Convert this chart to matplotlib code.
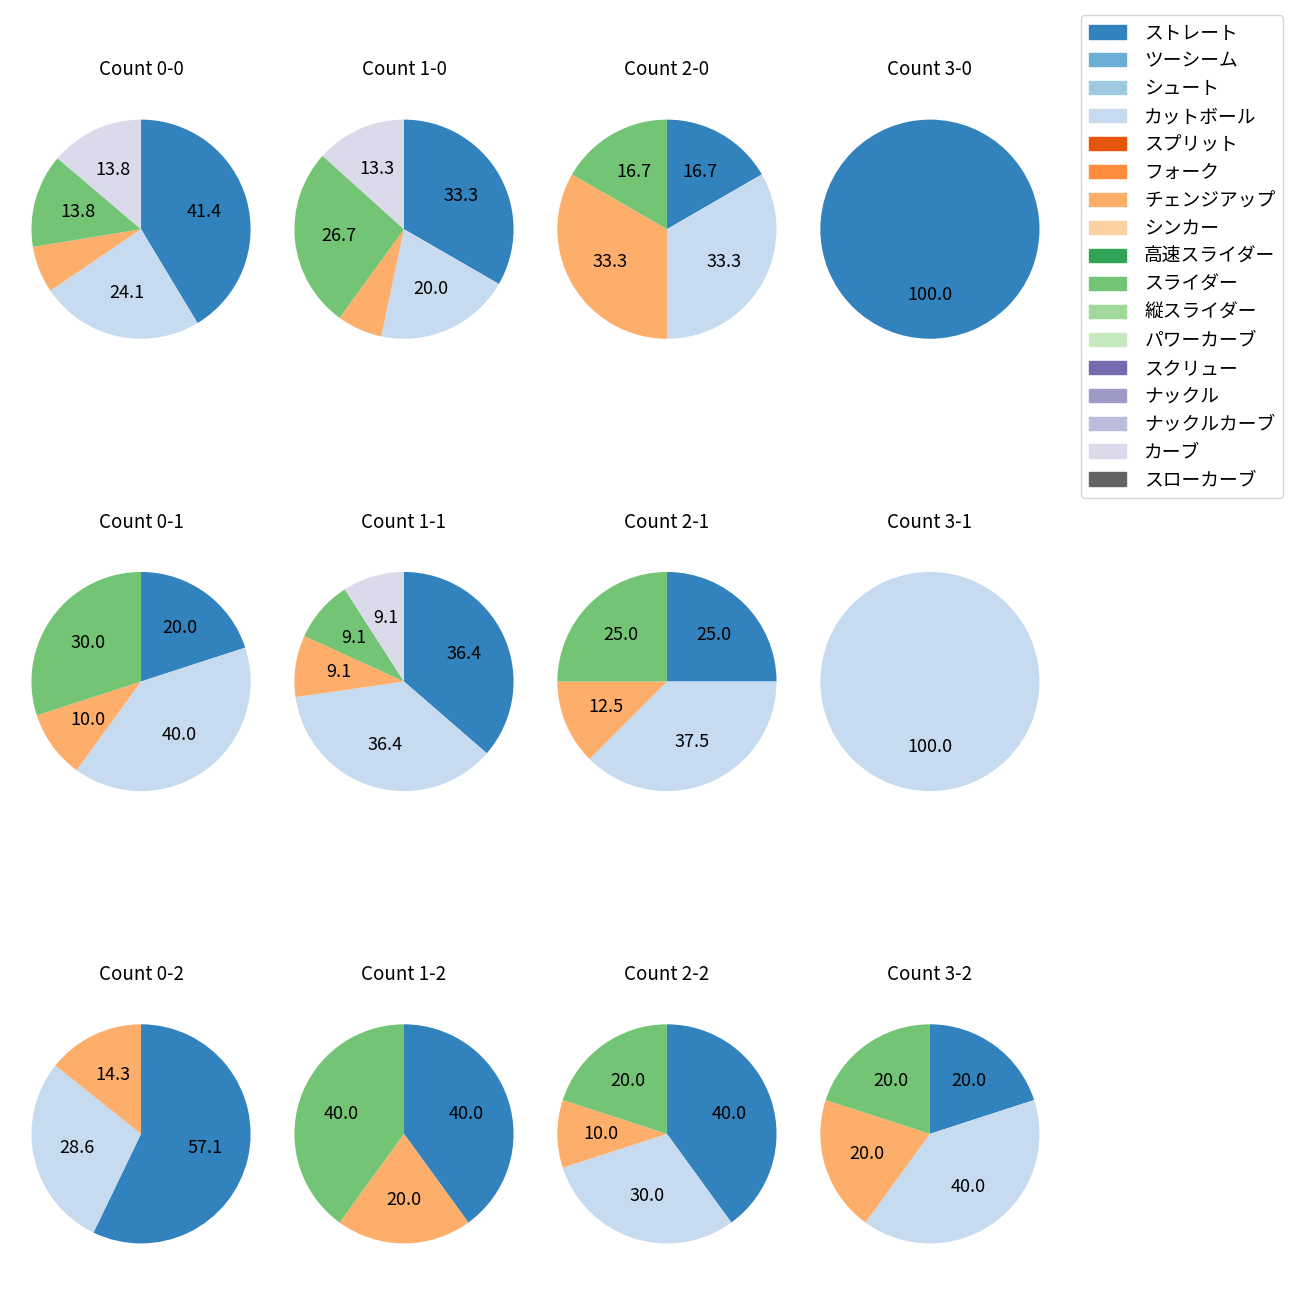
import matplotlib
matplotlib.use("Agg")
import matplotlib.pyplot as plt
from matplotlib.patches import Patch
import numpy as np

plt.rcParams['font.family'] = ['Noto Sans CJK JP', 'DejaVu Sans']

# pitch types, in legend order
pitch_types = ['ストレート', 'ツーシーム', 'シュート', 'カットボール', 'スプリット', 'フォーク',
               'チェンジアップ', 'シンカー', '高速スライダー', 'スライダー', '縦スライダー',
               'パワーカーブ', 'スクリュー', 'ナックル', 'ナックルカーブ', 'カーブ', 'スローカーブ']
colors = [plt.cm.tab20c(i) for i in range(len(pitch_types))]

# pitch counts per ball-strike count (same order as pitch_types)
count_labels = ['0-0', '1-0', '2-0', '3-0',
                '0-1', '1-1', '2-1', '3-1',
                '0-2', '1-2', '2-2', '3-2']
c_00 = [12, 0, 0, 7, 0, 0, 2, 0, 0, 4, 0, 0, 0, 0, 0, 4, 0]
c_10 = [5, 0, 0, 3, 0, 0, 1, 0, 0, 4, 0, 0, 0, 0, 0, 2, 0]
c_20 = [1, 0, 0, 2, 0, 0, 2, 0, 0, 1, 0, 0, 0, 0, 0, 0, 0]
c_30 = [1, 0, 0, 0, 0, 0, 0, 0, 0, 0, 0, 0, 0, 0, 0, 0, 0]
c_01 = [2, 0, 0, 4, 0, 0, 1, 0, 0, 3, 0, 0, 0, 0, 0, 0, 0]
c_11 = [4, 0, 0, 4, 0, 0, 1, 0, 0, 1, 0, 0, 0, 0, 0, 1, 0]
c_21 = [2, 0, 0, 3, 0, 0, 1, 0, 0, 2, 0, 0, 0, 0, 0, 0, 0]
c_31 = [0, 0, 0, 1, 0, 0, 0, 0, 0, 0, 0, 0, 0, 0, 0, 0, 0]
c_02 = [4, 0, 0, 2, 0, 0, 1, 0, 0, 0, 0, 0, 0, 0, 0, 0, 0]
c_12 = [2, 0, 0, 0, 0, 0, 1, 0, 0, 2, 0, 0, 0, 0, 0, 0, 0]
c_22 = [4, 0, 0, 3, 0, 0, 1, 0, 0, 2, 0, 0, 0, 0, 0, 0, 0]
c_32 = [1, 0, 0, 2, 0, 0, 1, 0, 0, 1, 0, 0, 0, 0, 0, 0, 0]
count_values = [c_00, c_10, c_20, c_30, c_01, c_11, c_21, c_31, c_02, c_12, c_22, c_32]

fig, axes = plt.subplots(3, 4, figsize=(13, 13), dpi=100)
fig.subplots_adjust(left=0.0242, right=0.7996, bottom=0.0435, top=0.908,
                    wspace=0.2, hspace=1.064)

for ax, label, vals in zip(axes.flat, count_labels, count_values):
    vals = np.array(vals, dtype=float)
    keep = vals > 0
    ax.pie(vals[keep], colors=[c for c, k in zip(colors, keep) if k],
           startangle=90, counterclock=False,
           autopct=lambda p: f'{p:.1f}' if p >= 8 else '',
           textprops={'fontsize': 13})
    ax.set_xlim(-1, 1)
    ax.set_ylim(-1, 1)
    ax.set_aspect('equal')
    ax.set_title(f'Count {label}', fontsize=13.5, pad=32)

handles = [Patch(color=c) for c in colors]
fig.legend(handles, pitch_types, loc='upper right',
           bbox_to_anchor=(1283 / 1300, 1 - 15 / 1300), borderaxespad=0,
           fontsize=13.5, labelspacing=0.37, handletextpad=0.95)

fig.savefig('out.png')
